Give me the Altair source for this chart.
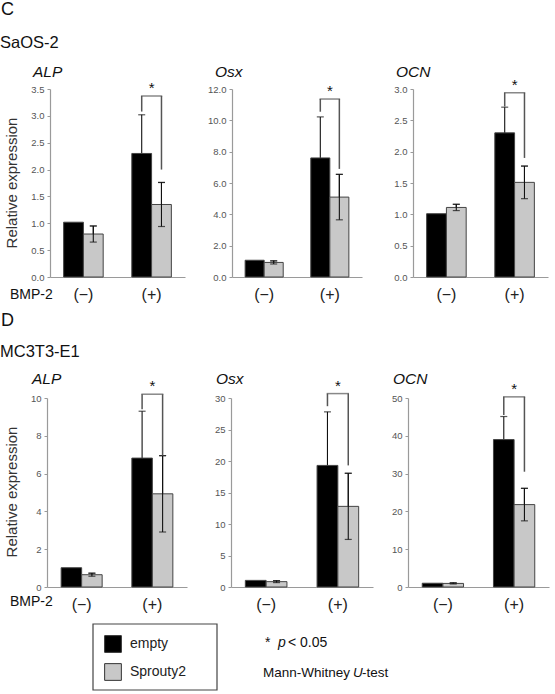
import altair as alt
import pandas as pd

FONT = "Liberation Sans"

groups = ["(−)", "(+)"]
constructs = ["empty", "Sprouty2"]

# Relative expression (mean, SD); order: (−)/empty, (−)/Sprouty2, (+)/empty, (+)/Sprouty2
saos_alp_mean = [1.02, 0.80, 2.30, 1.35]
saos_alp_sd = [0.0, 0.15, 0.72, 0.41]
saos_osx_mean = [1.07, 0.93, 7.60, 5.10]
saos_osx_sd = [0.0, 0.10, 2.62, 1.45]
saos_ocn_mean = [1.01, 1.11, 2.30, 1.51]
saos_ocn_sd = [0.0, 0.05, 0.41, 0.26]

mc_alp_mean = [1.02, 0.65, 6.82, 4.93]
mc_alp_sd = [0.0, 0.08, 2.48, 2.02]
mc_osx_mean = [1.05, 0.85, 19.3, 12.8]
mc_osx_sd = [0.0, 0.15, 8.5, 5.25]
mc_ocn_mean = [1.0, 0.95, 39.0, 21.8]
mc_ocn_sd = [0.0, 0.15, 6.1, 4.3]

# Significance brackets: [top, end of empty leg, end of Sprouty2 leg]
saos_alp_bracket = [3.37, 3.08, 2.0]
saos_osx_bracket = [11.36, 10.55, 6.9]
saos_ocn_bracket = [2.94, 2.72, 1.9]
mc_alp_bracket = [10.2, 9.4, 6.95]
mc_osx_bracket = [30.7, 28.7, 19.3]
mc_ocn_bracket = [50.3, 45.5, 30.5]

# Y-axis tick values
saos_alp_ticks = [0, 0.5, 1.0, 1.5, 2.0, 2.5, 3.0, 3.5]
saos_osx_ticks = [0, 2, 4, 6, 8, 10, 12]
saos_ocn_ticks = [0, 0.5, 1.0, 1.5, 2.0, 2.5, 3.0]
mc_alp_ticks = [0, 2, 4, 6, 8, 10]
mc_osx_ticks = [0, 5, 10, 15, 20, 25, 30]
mc_ocn_ticks = [0, 10, 20, 30, 40, 50]

W, H = 555, 694
PAD_IN, PAD_OUT = 0.42, 0.2
ONE = alt.Data(values=[{}])


def panel(mean, sd, bracket, ticks, fmt, xr, yr):
    df = pd.DataFrame({
        "bmp": [g for g in groups for _ in constructs],
        "construct": constructs * 2,
        "mean": mean,
        "sd": sd,
    })
    df["lo"] = df["mean"] - df["sd"]
    df["hi"] = df["mean"] + df["sd"]

    xaxis = alt.Axis(orient="bottom", offset=yr[0] - H, title=None, labelAngle=0,
                     labelFontSize=16, labelColor="#222", labelPadding=9, labelFont=FONT,
                     ticks=False, domainColor="#9a9a9a", domainWidth=1.2)
    yaxis = alt.Axis(orient="left", offset=-xr[0], title=None, values=ticks, format=fmt,
                     grid=False, domainColor="#9a9a9a", domainWidth=1.2, tickColor="#9a9a9a",
                     tickSize=3, labelFontSize=9.5, labelColor="#555", labelPadding=3,
                     labelFont=FONT)
    x = alt.X("bmp:N", sort=groups, axis=xaxis,
              scale=alt.Scale(domain=groups, range=list(xr),
                              paddingInner=PAD_IN, paddingOuter=PAD_OUT))
    xo = alt.XOffset("construct:N", sort=constructs, scale=alt.Scale(domain=constructs))

    def y(field):
        return alt.Y(f"{field}:Q", axis=yaxis,
                     scale=alt.Scale(domain=[0, ticks[-1]], range=list(yr), nice=False))

    color = alt.Color(
        "construct:N", sort=constructs,
        scale=alt.Scale(domain=constructs, range=["#000000", "#c8c8c8"]),
        legend=alt.Legend(orient="none", legendX=104, legendY=635, title=None,
                          symbolType="square", symbolSize=280, symbolStrokeColor="#333",
                          symbolStrokeWidth=1, symbolOpacity=1, labelFontSize=14,
                          labelFont=FONT, labelColor="#222", labelOffset=8,
                          rowPadding=6, padding=0),
    )

    base = alt.Chart(df)
    bars = base.mark_bar(stroke="#444", strokeWidth=1).encode(x=x, xOffset=xo, y=y("mean"), color=color)

    def whiskers(src):
        err = src.mark_rule(color="#111", strokeWidth=1.1).encode(x=x, xOffset=xo, y=y("lo"), y2="hi:Q")
        cap_hi = src.mark_tick(color="#111", thickness=1.2, size=7).encode(x=x, xOffset=xo, y=y("hi"))
        cap_lo = src.mark_tick(color="#111", thickness=1.2, size=7).encode(x=x, xOffset=xo, y=y("lo"))
        return [err, cap_hi, cap_lo]

    # whiskers sit behind the black bars and in front of the grey ones
    under = whiskers(base.transform_filter("datum.sd > 0"))
    over = whiskers(base.transform_filter("datum.sd > 0 && datum.construct == 'Sprouty2'"))

    br = pd.DataFrame({"bmp": ["(+)", "(+)"], "construct": constructs,
                       "top": [bracket[0], bracket[0]], "end": [bracket[1], bracket[2]]})
    step = (xr[1] - xr[0]) / (2 - PAD_IN + 2 * PAD_OUT)
    half_band = step * (1 - PAD_IN) / 2
    legs = alt.Chart(br).mark_rule(color="#555", strokeWidth=1.5).encode(
        x=x, xOffset=xo, y=y("top"), y2="end:Q")
    top = alt.Chart(br.iloc[:1]).mark_tick(color="#555", thickness=1.5, size=half_band + 1.5).encode(
        x=x, y=y("top"))
    star = alt.Chart(br.iloc[:1]).mark_text(text="*", fontSize=15, font=FONT, color="#111",
                                            dy=-8, baseline="middle").encode(x=x, y=y("top"))
    return alt.layer(*under, bars, *over, legs, top, star)


def label(text, x, y, size, align="left", italic=False, angle=0, color="#111"):
    kw = dict(text=text, fontSize=size, font=FONT, align=align, baseline="middle", color=color)
    if italic:
        kw["fontStyle"] = "italic"
    if angle:
        kw["angle"] = angle
    return alt.Chart(ONE).mark_text(**kw).encode(x=alt.value(x), y=alt.value(y))


TOP_Y = (277, 89)
BOT_Y = (587, 398)
top_x = [(50, 185), (232, 362), (413, 548)]
bot_x = [(47, 187), (231, 373), (408, 549)]

panels = [
    panel(saos_alp_mean, saos_alp_sd, saos_alp_bracket, saos_alp_ticks, ".1f", top_x[0], TOP_Y),
    panel(saos_osx_mean, saos_osx_sd, saos_osx_bracket, saos_osx_ticks, ".1f", top_x[1], TOP_Y),
    panel(saos_ocn_mean, saos_ocn_sd, saos_ocn_bracket, saos_ocn_ticks, ".1f", top_x[2], TOP_Y),
    panel(mc_alp_mean, mc_alp_sd, mc_alp_bracket, mc_alp_ticks, "d", bot_x[0], BOT_Y),
    panel(mc_osx_mean, mc_osx_sd, mc_osx_bracket, mc_osx_ticks, "d", bot_x[1], BOT_Y),
    panel(mc_ocn_mean, mc_ocn_sd, mc_ocn_bracket, mc_ocn_ticks, "d", bot_x[2], BOT_Y),
]

texts = [
    label("C", 1, 10, 18),
    label("SaOS-2", 0, 43, 16.5),
    label("D", 1, 321, 18),
    label("MC3T3-E1", 0, 352, 16.5),
    label("Relative expression", 12, 183, 15, align="center", angle=270, color="#333"),
    label("Relative expression", 12, 492, 15, align="center", angle=270, color="#333"),
    label("BMP-2", 10, 295, 14),
    label("BMP-2", 10, 602, 14),
    label("*", 265, 643, 14),
    label("p", 278, 643, 14, italic=True),
    label("< 0.05", 288, 643, 14),
    label("Mann-Whitney", 263, 673, 13.5),
    label("U", 353, 673, 13.5, italic=True),
    label("-test", 362, 673, 13.5),
]
for gene, (x0, _) in zip(["ALP", "Osx", "OCN"], top_x):
    texts.append(label(gene, x0 - 17, 72, 15.5, italic=True))
for gene, (x0, _) in zip(["ALP", "Osx", "OCN"], bot_x):
    texts.append(label(gene, x0 - 15, 379, 15.5, italic=True))

legend_frame = alt.Chart(ONE).mark_rect(fill="white", fillOpacity=0, stroke="#444", strokeWidth=1.2).encode(
    x=alt.value(93), x2=alt.value(217), y=alt.value(624), y2=alt.value(690))

chart = (
    alt.layer(legend_frame, *panels, *texts)
    .resolve_scale(x="independent", y="independent", xOffset="independent")
    .properties(width=W, height=H, autosize=alt.AutoSizeParams(type="none"), padding=0)
    .configure_view(stroke=None)
)

chart.save("out.html", embed_options={"renderer": "svg", "actions": False})
